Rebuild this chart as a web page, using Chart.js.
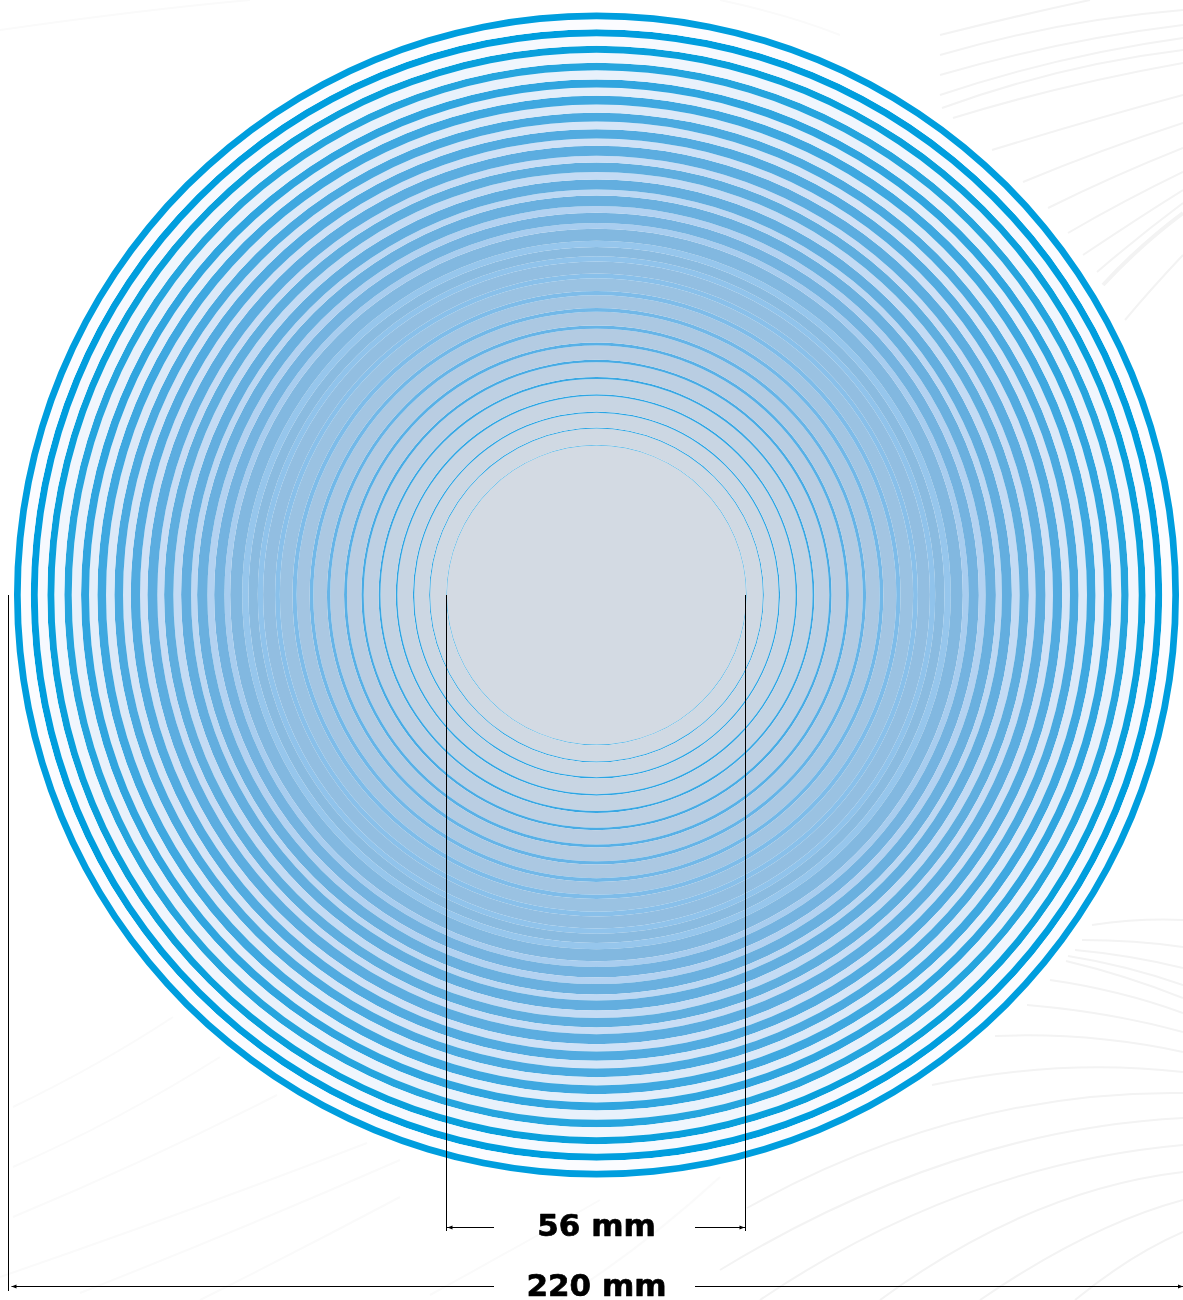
<!DOCTYPE html>
<html>
<head>
<meta charset="utf-8">
<title>Disc</title>
<script src="https://cdn.jsdelivr.net/npm/chart.js@4"></script>
<style>
  html, body { margin: 0; padding: 0; background: #fff; overflow: hidden; }
  #wrap { position: relative; width: 1183px; height: 1300px; }
  #wrap svg, #wrap canvas { position: absolute; left: 0; top: 0; }
  #wrap path { fill: none; stroke: #f3f3f3; stroke-width: 2; }
  #wrap path.soft { stroke: #fafafa; }
</style>
</head>
<body>
<div id="wrap">
  <!-- faint background lines -->
  <svg width="1183" height="1300" viewBox="0 0 1183 1300">
    <path d="M953 118Q1060 85 1183 63"/>
    <path d="M942 108Q1060 65 1183 50"/>
    <path d="M940 95Q1060 55 1183 38"/>
    <path d="M940 75Q1060 40 1183 25"/>
    <path d="M940 55Q1060 20 1183 10"/>
    <path d="M940 35Q1020 15 1090 0"/>
    <path d="M992 150Q1090 120 1183 95"/>
    <path d="M1023 182Q1100 150 1183 123"/>
    <path d="M1048 208Q1115 175 1183 148"/>
    <path d="M1068 233Q1125 200 1183 172"/>
    <path d="M1083 255Q1135 220 1183 190"/>
    <path d="M1097 272Q1140 235 1183 203"/>
    <path d="M1103 285Q1140 245 1183 213" style="stroke-width:4"/>
    <path d="M1125 320Q1150 290 1183 255"/>
    <path d="M1092 925Q1140 918 1183 920"/>
    <path d="M1082 940Q1135 940 1183 947"/>
    <path d="M1075 950Q1130 955 1183 968"/>
    <path d="M1068 956Q1125 965 1183 985"/>
    <path d="M1066 961Q1125 975 1183 998"/>
    <path d="M1050 980Q1120 990 1183 1013"/>
    <path d="M1027 1005Q1110 1012 1183 1032"/>
    <path d="M995 1036Q1090 1032 1183 1052"/>
    <path d="M932 1085Q1060 1058 1183 1072"/>
    <path d="M747 1208Q960 1090 1183 1093"/>
    <path d="M720 1270Q950 1130 1183 1118"/>
    <path d="M760 1300Q960 1165 1183 1145"/>
    <path d="M880 1300Q1030 1190 1183 1172"/>
    <path d="M980 1300Q1090 1225 1183 1200"/>
    <path d="M1075 1300Q1130 1255 1183 1232"/>
    <path class="soft" d="M430 1295Q530 1240 600 1200"/>
    <path class="soft" d="M560 1300Q640 1250 720 1177"/>
    <path class="soft" d="M0 1277Q180 1215 367 1143"/>
    <path class="soft" d="M13 1217Q150 1160 277 1095"/>
    <path class="soft" d="M13 1167Q120 1120 220 1057"/>
    <path class="soft" d="M13 1107Q100 1065 173 1017"/>
    <path class="soft" d="M80 1293Q240 1230 400 1160"/>
    <path class="soft" d="M200 1300Q300 1250 400 1197"/>
    <path class="soft" d="M0 30Q140 10 250 0"/>
    <path class="soft" d="M720 0Q790 15 840 35"/>
  </svg>
  <canvas id="disc" width="1183" height="1300"></canvas>
</div>
<script>
// widths, in mm, from the outer edge inwards
const bandWidths = [1.27, 1.32, 1.32, 1.40, 1.51, 1.64, 1.64, 1.76, 1.89, 1.76, 1.89, 1.95, 1.95,
  2.27, 1.75, 2.27, 2.38, 2.44, 2.57, 2.61, 2.72, 2.80, 2.89, 2.93, 2.81, 3.04];
const gapWidths = [1.89, 1.81, 1.89, 1.76, 1.57, 1.57, 1.45, 1.38, 1.27, 1.45, 1.13, 1.27, 1.08,
  1.19, 1.00, 0.90, 0.80, 0.70, 0.62, 0.55, 0.45, 0.36, 0.30, 0.25, 0.19, 0.13];
const holeRadius = 28.25;
const dimensionValues = [56, 220];
const dimensionLabels = ['56 mm', '220 mm'];

// colours
const bandColors = ['#009ede', '#009ede', '#0aa0dc', '#26a5de', '#30a5df', '#3fa8e0', '#4baae0',
  '#52abe0', '#5cade0', '#5faedf', '#63aedf', '#6ab0df', '#74b3e0', '#82b8e0', '#8abbe0', '#92bee1',
  '#9ac2e2', '#a3c5e2', '#abc8e2', '#b3cbe2', '#b9cde2', '#bed0e3', '#c3d3e3', '#c8d5e3', '#ccd7e3', '#d0d9e3'];
const gapColors = ['#fbfcff', '#f6f9fe', '#f0f6fd', '#e8f1fb', '#e3eefa', '#dbe9f8', '#d5e5f7',
  '#cfe1f6', '#c8ddf5', '#c3dbf4', '#bdd8f3', '#b3d2f1', '#a8cdef', '#96c6ec', '#90c3eb', '#89c0ea',
  '#7ebce9', '#72b8e8', '#66b4e7', '#58b0e6', '#48abe4', '#38a7e3', '#2ea5e3', '#2aa4e3', '#2ca5e3', '#45b0e5'];
const holeColor = '#d3dae3';

// one dataset per ring, the first one is the outermost
const datasets = [];
bandWidths.forEach((w, i) => {
  datasets.push({ data: [1], weight: w, backgroundColor: bandColors[i] });
  datasets.push({ data: [1], weight: gapWidths[i], backgroundColor: gapColors[i] });
});
datasets.push({ data: [1], weight: holeRadius, backgroundColor: holeColor });

// extension lines, arrows and labels under the disc
const dimensionPlugin = {
  id: 'dimensions',
  afterDraw(chart) {
    const ctx = chart.ctx;
    const arc = chart.getDatasetMeta(0).data[0];
    const cx = arc.x, cy = arc.y;
    const perMm = arc.outerRadius / (dimensionValues[1] / 2);

    const line = (x1, y1, x2, y2) => {
      ctx.beginPath();
      ctx.moveTo(x1, y1);
      ctx.lineTo(x2, y2);
      ctx.stroke();
    };
    const arrow = (x, y, dir) => {
      ctx.beginPath();
      ctx.moveTo(x, y);
      ctx.lineTo(x + dir * 5, y - 2);
      ctx.lineTo(x + dir * 5, y + 2);
      ctx.closePath();
      ctx.fill();
    };
    const label = (text, y) => {
      ctx.save();
      ctx.lineWidth = 0.7;
      ctx.fillText(text, cx, y);
      ctx.strokeText(text, cx, y);
      ctx.restore();
    };

    ctx.save();
    ctx.strokeStyle = '#000';
    ctx.fillStyle = '#000';
    ctx.lineWidth = 1;
    ctx.lineJoin = 'round';
    ctx.textAlign = 'center';
    ctx.textBaseline = 'middle';
    ctx.font = 'bold 31px "DejaVu Sans"';

    // inner diameter
    const left = Math.round(cx - dimensionValues[0] / 2 * perMm) - 1.5;
    const right = Math.floor(cx + dimensionValues[0] / 2 * perMm) + 1.5;
    line(left, cy, left, 1231);
    line(right, cy, right, 1231);
    line(left, 1227.5, 494, 1227.5);
    line(695, 1227.5, right, 1227.5);
    arrow(left + 1, 1227.5, 1);
    arrow(right - 1, 1227.5, -1);
    label(dimensionLabels[0], 1228);

    // outer diameter, sits a little outside the disc
    const outerLeft = Math.round(cx - dimensionValues[1] / 2 * perMm) - 5.5;
    line(outerLeft, cy, outerLeft, 1291);
    line(outerLeft + 3, 1286.5, 494, 1286.5);
    line(695, 1286.5, 1183, 1286.5);
    arrow(outerLeft + 3, 1286.5, 1);
    arrow(1183, 1286.5, -1);
    label(dimensionLabels[1], 1288);
    ctx.restore();
  }
};

new Chart(document.getElementById('disc'), {
  type: 'doughnut',
  data: { labels: ['disc'], datasets: datasets },
  options: {
    responsive: false,
    animation: false,
    cutout: 0,
    layout: { padding: { left: 14, right: 4, top: 12.5, bottom: 122.5 } },
    elements: { arc: { borderWidth: 0, hoverOffset: 0, offset: 0 } },
    plugins: { legend: { display: false }, tooltip: { enabled: false } }
  },
  plugins: [dimensionPlugin]
});
</script>
</body>
</html>
